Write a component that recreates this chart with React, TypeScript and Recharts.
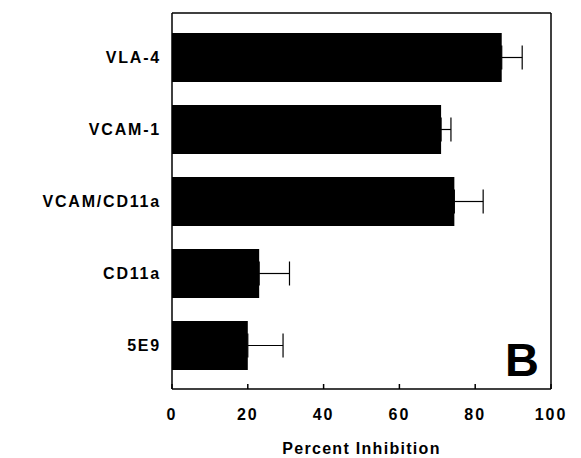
import { Bar, BarChart, ErrorBar, XAxis, YAxis, Label } from "recharts";

const categories = ["VLA-4", "VCAM-1", "VCAM/CD11a", "CD11a", "5E9"];
const inhibition = [87, 71, 74.5, 23, 20];
const errorPlus = [5.4, 2.6, 7.6, 8, 9.3];
const xTicks = [0, 20, 40, 60, 80, 100];

const data = categories.map((name, i) => ({
  name,
  value: inhibition[i],
  err: [0, errorPlus[i]],
}));

const font = "'Liberation Sans', Arial, Helvetica, sans-serif";

export default function App() {
  return (
    <div style={{ position: "absolute", left: 0, top: 0, width: 581, height: 458, background: "#fff" }}>
      <BarChart
        width={581}
        height={458}
        data={data}
        layout="vertical"
        margin={{ top: 12, right: 29, bottom: 0, left: 0 }}
        barSize={49}
      >
        <XAxis
          type="number"
          dataKey="value"
          domain={[0, 100]}
          ticks={xTicks}
          height={69}
          stroke="#000"
          strokeWidth={1.5}
          tickSize={-5}
          tickMargin={25}
          tick={{ fill: "#000", fontSize: 16, fontWeight: 700, fontFamily: font, letterSpacing: 2 }}
        >
          <Label
            value="Percent Inhibition"
            position="insideBottom"
            offset={4}
            style={{ fill: "#000", fontSize: 16, fontWeight: 700, fontFamily: font, letterSpacing: 1.3 }}
          />
        </XAxis>
        <XAxis
          xAxisId="top"
          orientation="top"
          type="number"
          domain={[0, 100]}
          height={1}
          tick={false}
          tickLine={false}
          stroke="#000"
          strokeWidth={1.5}
        />
        <YAxis
          type="category"
          dataKey="name"
          width={172}
          padding={{ top: 8, bottom: 8 }}
          stroke="#000"
          strokeWidth={1.5}
          tickLine={false}
          tickSize={0}
          tickMargin={11}
          tick={{ fill: "#000", fontSize: 16, fontWeight: 700, fontFamily: font, letterSpacing: 1.8 }}
        />
        <YAxis
          yAxisId="right"
          orientation="right"
          type="number"
          domain={[0, 1]}
          width={1}
          tick={false}
          tickLine={false}
          stroke="#000"
          strokeWidth={1.5}
        />
        <Bar dataKey="value" fill="#000" isAnimationActive={false}>
          <ErrorBar dataKey="err" direction="x" width={12} stroke="#000" strokeWidth={1.2} />
        </Bar>
      </BarChart>
      <div
        style={{
          position: "absolute",
          left: 505,
          top: 336,
          fontFamily: font,
          fontWeight: 700,
          fontSize: 47,
          lineHeight: 1,
          color: "#000",
        }}
      >
        B
      </div>
    </div>
  );
}
